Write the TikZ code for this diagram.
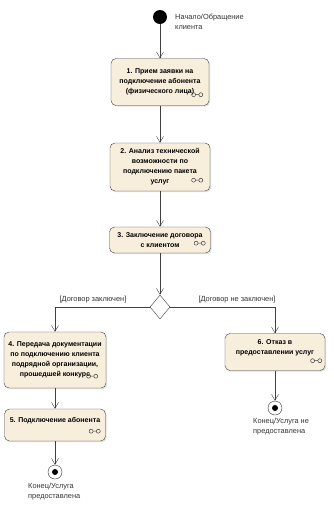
\documentclass[tikz,border=0pt]{standalone}
\usepackage{fontspec}
\setmainfont{Liberation Sans}
\usetikzlibrary{arrows.meta, positioning, shapes.geometric, shadows}
\definecolor{actfill}{HTML}{F8EEDC}

\tikzset{
  action/.style={draw=black!75, fill=actfill, rounded corners=5pt, align=center,
    font=\fontsize{7}{10}\selectfont\bfseries, inner sep=1pt,
    drop shadow={shadow xshift=1.2pt, shadow yshift=-1.2pt, opacity=0.25}},
  flow/.style={draw=black!75, -{Straight Barb[length=6pt,width=7pt]}},
  note/.style={font=\fontsize{7.4}{10}\selectfont, align=left, text=black!80, inner sep=0pt},
  endstate/.style={circle, draw=black!80, fill=white, minimum size=14pt, inner sep=0pt,
    path picture={\fill[black] (path picture bounding box.center) circle (3pt);}},
  rake/.pic={\draw[black!75, line width=0.5pt] (-3.6,0) circle (2pt) (3.6,0) circle (2pt) (-1.6,0) -- (1.6,0);}
}

\begin{document}
\begin{tikzpicture}[x=1pt, y=-1pt]
    \useasboundingbox (0,0) rectangle (333,515);
    % Start
    \node[circle, fill=black, minimum size=14pt, inner sep=0pt] (start) at (160,17) {};
    \node[note, anchor=west] (startlbl) at (175,22) {Начало/Обращение\\клиента};

    % Actions
    \node[action, minimum width=98pt, minimum height=47pt] (a1) at (160,82)
        {1. Прием заявки на\\подключение абонента\\(физического лица)};
    \node[action, minimum width=100pt, minimum height=48pt] (a2) at (160,167)
        {2. Анализ технической\\возможности по\\подключению пакета\\услуг};
    \node[action, minimum width=101pt, minimum height=26pt] (a3) at (160,240)
        {3. Заключение договора\\с клиентом};
    \node[diamond, draw=black!75, fill=white, minimum width=20pt, minimum height=24pt,
        inner sep=0pt] (dec) at (160,307) {};
    \node[action, minimum width=102pt, minimum height=56pt] (a4) at (55,360)
        {4. Передача документации\\по подключению клиента\\подрядной организации,\\прошедшей конкурс};
    \node[action, minimum width=101pt, minimum height=32pt] (a5) at (55,425)
        {5. Подключение абонента\\\mbox{}};
    \node[action, minimum width=100pt, minimum height=37pt] (a6) at (275,352)
        {6. Отказ в\\предоставлении услуг\\\mbox{}};

    % Rake icons
    \foreach \n/\dx/\dy in {a1/-12/-11, a2/-13/-11, a3/-11/-10, a4/-14/-12, a5/-11/-10, a6/-9/-10}
        \pic at ([shift={(\dx,\dy)}]\n.south east) {rake};

    % Final states
    \node[endstate] (end1) at (55,472) {};
    \node[note, anchor=north west] (end1lbl) at (28,483) {Конец/Услуга\\предоставлена};
    \node[endstate] (end2) at (275,408) {};
    \node[note, anchor=north west] (end2lbl) at (253,418) {Конец/Услуга не\\предоставлена};

    % Guards
    \node[note, anchor=south] (yeslbl) at (93,303) {[Договор заключен]};
    \node[note, anchor=south] (nolbl) at (237,303) {[Договор не заключен]};

    % Flows
    \draw[flow] (start) -- (a1);
    \draw[flow] (a1) -- (a2);
    \draw[flow] (a2) -- (a3);
    \draw[flow] (a3) -- (dec);
    \draw[flow] (dec.west) -| (a4.north);
    \draw[flow] (dec.east) -| (a6.north);
    \draw[flow] (a4) -- (a5);
    \draw[flow] (a5) -- (end1);
    \draw[flow] (a6) -- (end2);
\end{tikzpicture}
\end{document}
